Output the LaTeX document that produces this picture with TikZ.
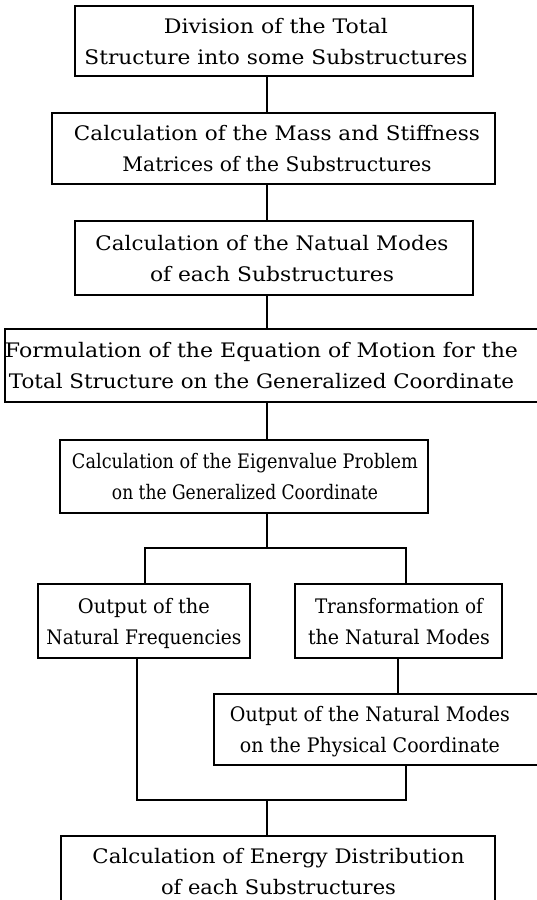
\documentclass[tikz,border=0pt]{standalone}
\usepackage{fontspec}
\usepackage{graphicx}
\setmainfont{DejaVu Serif}
\newcommand{\fitw}[2]{\strut\resizebox{#1pt}{\height}{#2}}
\begin{document}
\begin{tikzpicture}[x=1pt,y=-1pt,
  box/.style={draw,line width=1.9pt,inner sep=0pt},
  lbl/.style={align=center,font=\fontsize{20}{31}\selectfont,inner sep=0pt},
  conn/.style={line width=1.9pt}]
\useasboundingbox (0,0) rectangle (537,900);
\clip (0,0) rectangle (537,900);
% boxes
\node[box,minimum width=398,minimum height=70] (b1) at (274,41) {};
\node[box,minimum width=443,minimum height=71] (b2) at (273.5,148.5) {};
\node[box,minimum width=398,minimum height=74] (b3) at (274,258) {};
\node[box,minimum width=555,minimum height=73] (b4) at (282.5,365.5) {};
\node[box,minimum width=368,minimum height=73] (b5) at (244,476.5) {};
\node[box,minimum width=212,minimum height=74] (b6) at (144,621) {};
\node[box,minimum width=207,minimum height=74] (b7) at (398.5,621) {};
\node[box,minimum width=346,minimum height=71] (b8) at (387,729.5) {};
\node[box,minimum width=434,minimum height=72] (b9) at (278,872) {};
% texts
\node[lbl] (t1) at (276,42.5) {\fitw{224}{Division of the Total}\\\fitw{383}{Structure into some Substructures}};
\node[lbl] (t2) at (277,150) {\fitw{406}{Calculation of the Mass and Stiffness}\\\fitw{309}{Matrices of the Substructures}};
\node[lbl] (t3) at (272,259.5) {\fitw{353}{Calculation of the Natual Modes}\\\fitw{244}{of each Substructures}};
\node[lbl] (t4) at (261.5,367) {\fitw{513}{Formulation of the Equation of Motion for the}\\\fitw{505}{Total Structure on the Generalized Coordinate}};
\node[lbl] (t5) at (245,478) {\fitw{346}{Calculation of the Eigenvalue Problem}\\\fitw{266}{on the Generalized Coordinate}};
\node[lbl] (t6) at (144,622.5) {\fitw{132}{Output of the}\\\fitw{195}{Natural Frequencies}};
\node[lbl] (t7) at (399,622.5) {\fitw{168}{Transformation of}\\\fitw{182}{the Natural Modes}};
\node[lbl] (t8) at (370,731) {\fitw{280}{Output of the Natural Modes}\\\fitw{260}{on the Physical Coordinate}};
\node[lbl] (t9) at (278.5,873) {\fitw{372}{Calculation of Energy Distribution}\\\fitw{235}{of each Substructures}};
% connectors
\coordinate (tx) at (267,0);
\coordinate (s1) at (267,548);
\coordinate (sl) at (145,548);
\coordinate (sr) at (406,548);
\coordinate (dx) at (398,0);
\coordinate (m1) at (267,800);
\coordinate (ml) at (137,800);
\coordinate (mr) at (406,800);
\draw[conn] (b1.south -| tx) -- (b2.north -| tx);
\draw[conn] (b2.south -| tx) -- (b3.north -| tx);
\draw[conn] (b3.south -| tx) -- (b4.north -| tx);
\draw[conn] (b4.south -| tx) -- (b5.north -| tx);
\draw[conn] (b5.south -| s1) -- (s1);
\draw[conn] (b6.north -| sl) -- (sl) -- (sr) -- (b7.north -| sr);
\draw[conn] (b7.south -| dx) -- (b8.north -| dx);
\draw[conn] (b6.south -| ml) -- (ml) -- (mr) -- (b8.south -| mr);
\draw[conn] (m1) -- (b9.north -| m1);
\end{tikzpicture}
\end{document}
